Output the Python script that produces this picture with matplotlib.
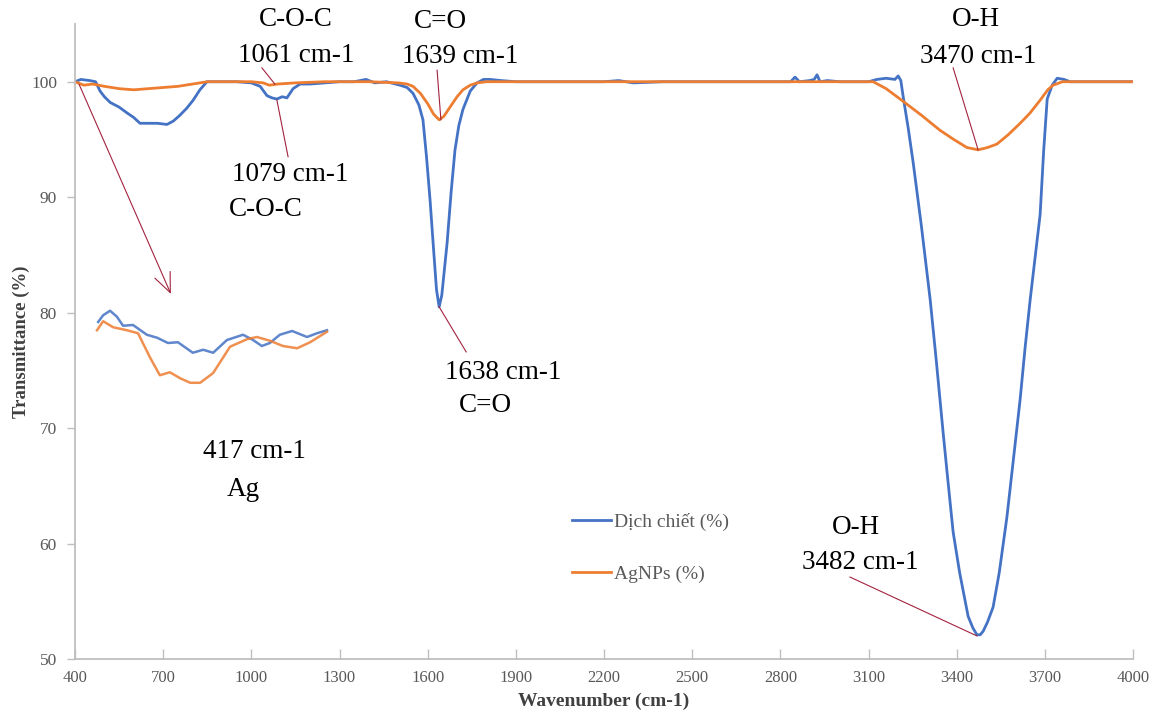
import matplotlib
matplotlib.use('Agg')
import matplotlib.pyplot as plt

plt.rcParams['font.family'] = ['Liberation Serif', 'DejaVu Serif']

# FTIR spectra (wavenumber cm-1, transmittance %)
blue_x = [400, 420, 450, 470, 485, 500, 520, 550, 577, 600, 621, 650, 680, 713, 735, 757, 780, 802, 825, 849,
          880, 950, 1000, 1030, 1053, 1070, 1087, 1105, 1121, 1142, 1166, 1200, 1250, 1300, 1350, 1390, 1420,
          1460, 1506, 1530, 1550, 1570, 1584, 1596, 1608, 1620, 1630, 1639, 1648, 1656, 1666, 1680, 1693, 1706,
          1720, 1745, 1768, 1790, 1812, 1850, 1900, 2000, 2100, 2200, 2250, 2300, 2400, 2500, 2600, 2700, 2800,
          2835, 2850, 2865, 2900, 2915, 2925, 2935, 2960, 3000, 3050, 3100, 3129, 3160, 3190, 3201, 3210, 3218,
          3235, 3252, 3280, 3310, 3330, 3354, 3370, 3388, 3410, 3439, 3455, 3469, 3480, 3490, 3505, 3524, 3545,
          3571, 3594, 3616, 3633, 3650, 3667, 3684, 3696, 3708, 3725, 3742, 3765, 3786, 3850, 3900, 4000]
blue_y = [100.0, 100.2, 100.1, 100.0, 99.2, 98.7, 98.2, 97.8, 97.3, 96.9, 96.4, 96.4, 96.4, 96.3, 96.6, 97.1,
          97.7, 98.4, 99.3, 100.0, 100.0, 100.0, 99.9, 99.6, 98.8, 98.6, 98.5, 98.7, 98.6, 99.4, 99.8, 99.8, 99.9,
          100.0, 100.0, 100.2, 99.9, 100.0, 99.7, 99.5, 99.0, 98.0, 96.7, 93.5, 89.8, 85.5, 82.0, 80.5, 81.5,
          83.5, 86.0, 90.5, 94.1, 96.2, 97.6, 99.2, 99.9, 100.2, 100.2, 100.1, 100.0, 100.0, 100.0, 100.0, 100.1,
          99.9, 100.0, 100.0, 100.0, 100.0, 100.0, 100.0, 100.4, 100.0, 100.1, 100.2, 100.6, 100.0, 100.1, 100.0,
          100.0, 100.0, 100.2, 100.3, 100.2, 100.5, 100.1, 98.7, 96.0, 93.0, 87.5, 81.1, 76.0, 69.6, 65.5, 61.0,
          57.5, 53.7, 52.7, 52.1, 52.1, 52.4, 53.2, 54.5, 57.5, 62.3, 67.5, 72.5, 77.0, 81.1, 84.8, 88.5, 94.0,
          98.5, 99.7, 100.3, 100.2, 100.0, 100.0, 100.0, 100.0]

orange_x = [400, 430, 460, 500, 550, 600, 650, 700, 750, 800, 850, 900, 1000, 1040, 1061, 1090, 1150, 1250,
            1400, 1500, 1530, 1550, 1575, 1600, 1620, 1639, 1655, 1676, 1700, 1720, 1745, 1768, 1800, 1900, 2100,
            2300, 2500, 2700, 2900, 3050, 3116, 3160, 3218, 3280, 3343, 3390, 3435, 3473, 3505, 3537, 3575, 3616,
            3650, 3684, 3710, 3728, 3760, 3850, 4000]
orange_y = [100.0, 99.7, 99.8, 99.6, 99.4, 99.3, 99.4, 99.5, 99.6, 99.8, 100.0, 100.0, 100.0, 99.9, 99.7, 99.8,
            99.9, 100.0, 100.0, 99.9, 99.8, 99.6, 99.0, 98.1, 97.2, 96.7, 97.0, 97.8, 98.7, 99.3, 99.7, 99.9, 100.0,
            100.0, 100.0, 100.0, 100.0, 100.0, 100.0, 100.0, 100.0, 99.4, 98.3, 97.1, 95.8, 95.0, 94.3, 94.1, 94.3,
            94.6, 95.4, 96.4, 97.3, 98.4, 99.3, 99.7, 100.0, 100.0, 100.0]

# zoomed low-wavenumber region (inset)
inset_blue_x = [403, 416, 434, 452, 468, 494, 530, 557, 585, 611, 650, 677, 703, 739, 781, 807, 830, 851, 877,
                909, 948, 974, 1000]
inset_blue_y = [98.4, 99.3, 99.9, 99.1, 97.9, 98.0, 96.7, 96.3, 95.6, 95.7, 94.3, 94.7, 94.3, 96.0, 96.7, 96.0,
                95.2, 95.6, 96.7, 97.2, 96.4, 96.9, 97.3]
inset_orange_x = [400, 416, 442, 478, 507, 538, 564, 590, 617, 643, 669, 703, 747, 791, 817, 851, 885, 922, 956,
                  1000]
inset_orange_y = [97.3, 98.5, 97.7, 97.3, 96.9, 93.7, 91.3, 91.7, 90.9, 90.3, 90.3, 91.6, 95.1, 96.1, 96.4, 95.9,
                  95.2, 94.9, 95.7, 97.1]

xticks = [400, 700, 1000, 1300, 1600, 1900, 2200, 2500, 2800, 3100, 3400, 3700, 4000]
yticks = [50, 60, 70, 80, 90, 100]

blue = '#4472C4'
orange = '#ED7D31'
red = '#A3233F'
gray = '#595959'

fig = plt.figure(figsize=(11.54, 7.12), dpi=100)
ax = fig.add_axes([0.0650, 0.0744, 0.9168, 0.8919])

ax.plot(blue_x, blue_y, color=blue, lw=2.0, label='Dịch chiết (%)', solid_joinstyle='round')
ax.plot(orange_x, orange_y, color=orange, lw=2.0, label='AgNPs (%)', solid_joinstyle='round')

ax.set_xlim(400, 4000)
ax.set_ylim(50, 105)
ax.set_xticks(xticks)
ax.set_yticks(yticks)
ax.tick_params(axis='x', direction='in', length=7, width=1, color='#BFBFBF', labelsize=12, labelcolor=gray, pad=8)
ax.tick_params(axis='y', direction='out', length=6, width=1, color='#BFBFBF', labelsize=12.5, labelcolor=gray, pad=7)
for s in ['top', 'right']:
    ax.spines[s].set_visible(False)
for s in ['left', 'bottom']:
    ax.spines[s].set_color('#BFBFBF')
    ax.spines[s].set_linewidth(1.3)

ax.set_xlabel('Wavenumber (cm-1)', fontsize=14, fontweight='bold', color='#404040', labelpad=5)
ax.set_ylabel('Transmittance (%)', fontsize=13.5, fontweight='bold', color='#404040', labelpad=1)

leg = ax.legend(loc='center left', bbox_to_anchor=(572 / 1154, 1 - 548 / 712), bbox_transform=fig.transFigure,
                frameon=False, fontsize=14, handlelength=2.0, handletextpad=0.15, labelspacing=1.75,
                borderpad=0, borderaxespad=0)
for t in leg.get_texts():
    t.set_color(gray)

# peak annotations
fs = 19.5
labels = [
    ('C-O-C', 1152, 105.4), ('1061 cm-1', 1152, 102.3),
    ('1079 cm-1', 1132, 91.95), ('C-O-C', 1050, 88.9),
    ('C=O', 1645, 105.2), ('1639 cm-1', 1710, 102.2),
    ('1638 cm-1', 1857, 74.8), ('C=O', 1795, 72.0),
    ('O-H', 3466, 105.4), ('3470 cm-1', 3473, 102.2),
    ('O-H', 3058, 61.4), ('3482 cm-1', 3071, 58.4),
    ('417 cm-1', 1009, 68.0), ('Ag', 972, 64.7),
]
for txt, x, y in labels:
    ax.text(x, y, txt, fontsize=fs, ha='center', va='center', color='black', clip_on=False)

leaders = [
    ((1036, 101.2), (1080, 99.8)),
    ((1087, 98.4), (1125, 93.5)),
    ((1632, 101.0), (1645, 96.7)),
    ((1639, 80.5), (1731, 76.6)),
    ((3388, 101.2), (3473, 94.1)),
    ((3037, 57.1), (3469, 52.0)),
]
for (x0, y0), (x1, y1) in leaders:
    ax.plot([x0, x1], [y0, y1], color=red, lw=0.8, clip_on=False)

ax.annotate('', xy=(730, 81.4), xytext=(410, 100.0),
            arrowprops=dict(arrowstyle='->,head_length=1.4,head_width=0.6', color=red, lw=0.8))

# inset
ins = fig.add_axes([90 / 1154, 1 - 395 / 712, 245 / 1154, 95 / 712])
ins.plot(inset_blue_x, inset_blue_y, color=blue, lw=1.8, alpha=0.85, solid_joinstyle='round')
ins.plot(inset_orange_x, inset_orange_y, color=orange, lw=1.8, alpha=0.85, solid_joinstyle='round')
ins.set_xlim(381.7, 1020.9)
ins.set_ylim(88.67, 101.33)
ins.axis('off')

fig.savefig('out.png', dpi=100)
